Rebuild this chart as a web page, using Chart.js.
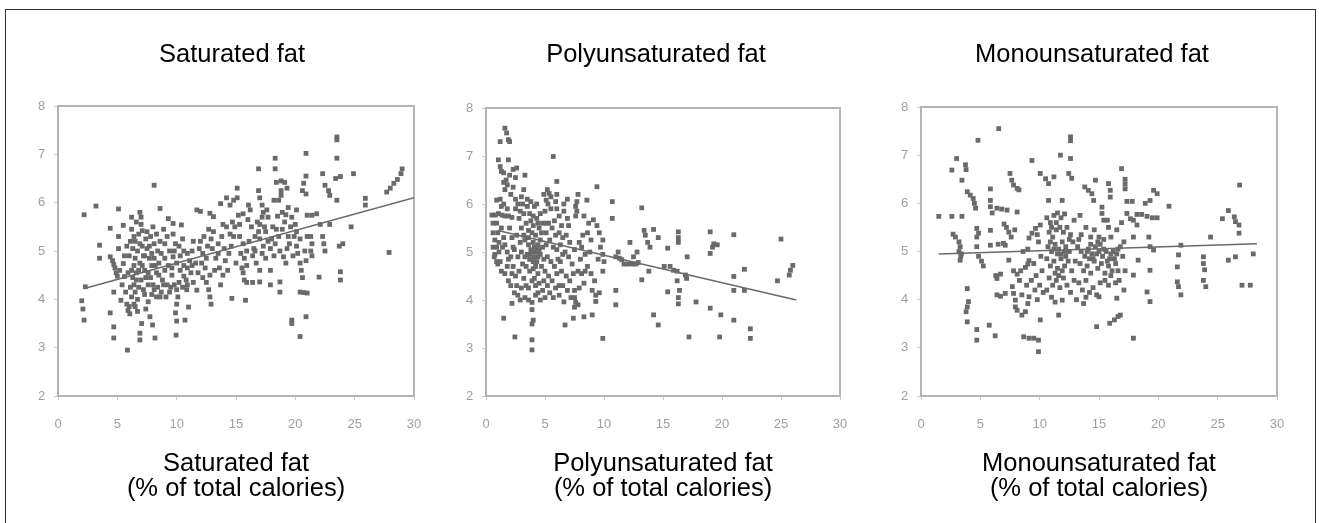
<!DOCTYPE html>
<html>
<head>
<meta charset="utf-8">
<script src="https://cdn.jsdelivr.net/npm/chart.js@4.4.1/dist/chart.umd.min.js"></script>
<style>
  body { margin: 0; background: #fff; width: 1319px; height: 523px; overflow: hidden; position: relative; }
  .frame { position: absolute; left: 5px; top: 9px; width: 1311px; height: 530px; border: 1.5px solid #333; box-sizing: border-box; }
  canvas { position: absolute; top: 10px; }
</style>
</head>
<body>
<div class="frame"></div>
<canvas id="sat" width="430" height="505" style="left:10px"></canvas>
<canvas id="poly" width="430" height="505" style="left:440px"></canvas>
<canvas id="mono" width="430" height="505" style="left:875px"></canvas>
<script>
// panel titles
const titles = ["Saturated fat", "Polyunsaturated fat", "Monounsaturated fat"]
const xTitle = "(% of total calories)"

// [% of calories, y value]
const satFat = [
  [2.0,3.97],[2.1,3.8],[2.2,3.57],[2.2,5.75],[2.3,4.26],[3.2,5.93],[3.5,5.12],[3.5,4.85],[4.4,5.47],[4.4,4.88],
  [4.6,4.8],[4.7,4.72],[4.8,4.65],[4.9,4.55],[5.0,4.48],[4.7,4.15],[4.4,3.72],[4.7,3.43],[4.7,3.2],[5.1,5.87],
  [5.1,5.3],[5.1,5.05],[5.5,5.53],[5.5,4.74],[5.6,4.47],[5.3,3.98],[5.8,3.9],[5.9,3.77],[6.05,3.7],[5.85,2.95],
  [6.2,5.7],[6.9,5.8],[7.0,5.7],[7.0,5.55],[7.1,5.42],[6.5,5.2],[6.7,5.0],[6.5,4.85],[6.4,4.7],[6.3,4.45],
  [6.4,4.3],[6.5,4.15],[6.7,4.0],[6.4,3.9],[6.7,3.75],[7.05,3.5],[6.9,3.3],[6.9,3.16],[7.75,3.64],[7.97,3.47],
  [8.17,3.2],[8.1,6.36],[7.5,5.4],[7.8,5.3],[8.1,5.15],[8.4,5.0],[8.1,4.85],[7.9,4.7],[7.6,4.55],[7.8,4.45],
  [8.0,4.3],[8.1,4.2],[8.3,4.05],[7.6,4.3],[7.3,4.6],[7.2,4.9],[7.0,4.4],[7.3,4.1],[7.6,3.95],[8.6,5.88],
  [9.3,5.67],[9.7,5.57],[10.4,5.54],[8.9,5.45],[9.2,5.3],[9.7,5.35],[9.4,5.0],[9.7,4.88],[10.0,4.75],[10.3,4.6],
  [10.6,4.48],[10.9,4.65],[11.1,4.8],[10.9,4.95],[10.6,5.0],[10.0,4.2],[10.1,4.05],[10.0,3.9],[9.9,3.72],[10.0,3.55],
  [9.95,3.26],[10.7,3.57],[11.0,3.84],[10.85,4.2],[9.0,4.6],[8.8,4.4],[9.2,4.3],[9.4,4.15],[8.7,4.95],[9.0,5.15],
  [11.7,5.85],[12.0,5.82],[11.7,4.19],[11.4,5.2],[11.9,5.05],[12.2,4.95],[12.5,4.85],[12.1,4.75],[12.4,4.65],[12.5,4.35],
  [12.7,4.2],[12.8,4.05],[12.9,3.9],[12.8,5.78],[13.1,5.71],[13.1,5.4],[12.9,5.25],[12.6,5.1],[12.3,5.3],[13.6,4.65],
  [13.9,4.5],[13.7,4.3],[13.7,5.98],[14.2,6.1],[14.5,5.95],[14.8,6.05],[15.1,6.3],[15.1,6.1],[14.2,5.5],[14.5,5.35],
  [14.8,5.3],[14.0,5.05],[14.4,4.95],[14.65,4.02],[15.8,3.98],[15.2,5.74],[15.6,5.77],[16.05,5.95],[16.2,5.85],[15.3,5.3],
  [15.6,5.15],[15.9,5.0],[15.7,4.85],[15.9,4.7],[15.6,4.55],[15.7,4.4],[15.9,4.35],[16.4,4.35],[16.4,4.9],[16.7,4.75],
  [16.9,6.7],[16.9,6.25],[17.0,6.1],[17.2,5.95],[17.3,5.8],[17.2,5.7],[17.0,5.55],[16.9,5.4],[17.0,5.25],[17.3,5.1],
  [17.2,4.95],[17.6,5.85],[17.7,5.7],[17.0,4.6],[17.0,4.36],[17.9,4.6],[17.9,4.3],[18.3,6.92],[18.3,6.7],[18.4,6.42],
  [18.8,6.45],[19.1,6.42],[19.3,6.3],[18.8,6.25],[18.8,6.15],[18.2,6.05],[18.6,6.05],[18.5,5.72],[18.9,5.8],[19.2,5.75],
  [19.1,5.6],[18.9,5.45],[18.6,5.3],[18.3,5.15],[18.7,5.0],[19.0,4.88],[19.2,4.75],[18.7,4.36],[18.7,4.15],[19.7,3.57],
  [19.7,3.5],[20.4,3.23],[20.1,5.4],[20.4,5.25],[20.1,5.1],[20.2,4.95],[20.4,4.75],[20.5,4.6],[20.6,4.45],[20.4,4.15],
  [20.7,4.14],[21.0,4.13],[20.9,3.64],[20.9,7.02],[20.9,6.55],[20.7,6.4],[20.6,6.25],[20.9,6.18],[20.1,5.85],[21.0,5.74],
  [21.4,5.74],[21.8,5.77],[21.3,5.3],[21.4,5.15],[21.3,5.0],[21.4,4.9],[22.0,4.46],[22.3,6.6],[22.5,6.36],[22.8,6.25],
  [22.9,6.15],[22.1,5.55],[22.3,5.3],[22.4,5.15],[22.5,5.0],[22.9,5.55],[23.5,7.36],[23.5,7.3],[23.5,6.92],[23.4,6.5],
  [23.8,6.54],[23.5,6.05],[23.7,5.1],[24.0,5.15],[23.8,4.57],[23.8,4.4],[24.9,6.6],[24.7,5.5],[25.9,6.09],[25.9,5.95],
  [27.9,4.97],[27.7,6.22],[28.0,6.3],[28.3,6.4],[28.6,6.48],[28.9,6.6],[29.0,6.7],
  [6.2,5.45],[6.4,5.3],[6.6,5.6],[6.8,5.35],[6.3,5.05],[6.9,5.15],[6.2,4.6],[6.6,4.55],[6.9,4.75],[6.1,4.25],
  [6.8,4.25],[6.2,4.05],[6.0,3.85],[6.5,3.85],[7.2,4.2],[7.4,4.45],[7.1,5.1],[7.5,5.05],[7.7,4.85],[8.3,4.55],
  [8.5,4.75],[8.3,5.35],[8.0,5.5],[8.6,5.2],[7.4,3.8],[7.9,4.1],[8.4,4.25],[8.7,4.15],[9.0,4.85],[9.3,4.7],
  [9.6,4.5],[9.8,4.3],[9.5,4.25],[10.2,4.35],[10.5,4.25],[10.8,4.4],[10.2,5.1],[10.5,5.25],[9.9,5.15],[11.2,4.55],
  [11.4,4.35],[11.3,5.0],[11.6,4.75],[11.8,4.55],[12.0,5.2],[12.7,5.45],[13.0,5.05],[13.3,4.85],[13.5,5.15],[13.2,4.6],
  [13.5,4.95],[13.8,5.3],[14.1,4.8],[14.3,4.6],[14.6,5.1],[14.9,5.5],[15.0,4.75],[15.4,4.95],[15.5,4.65],[16.1,5.2],
  [16.3,5.5],[16.6,5.3],[16.5,5.05],[16.8,5.6],[17.5,5.4],[17.7,5.2],[17.5,4.85],[17.9,5.05],[18.1,5.5],[18.4,5.45],
  [19.4,5.3],[19.6,5.5],[19.5,5.15],[19.8,4.9],[19.4,5.9],[19.7,5.7],[20.0,5.55],[20.8,5.0],[20.9,4.8],[21.0,5.3],
  [5.2,4.6],[5.4,4.3],[5.7,4.15],[5.9,4.55],[6.0,4.9],[6.1,5.2],[5.8,5.1],[5.6,4.9],[6.6,4.4],[6.8,4.6],
  [7.1,4.7],[7.3,4.9],[7.4,5.25],[7.7,5.1],[7.9,4.95],[8.2,4.7],[8.5,4.5],[8.9,4.3],[8.6,4.05],[9.1,4.05],
  [9.6,4.65],[9.8,5.0],[10.3,4.9],[10.6,4.7],[10.9,4.3],[11.3,4.7],[12.2,4.45],[12.8,4.5],[13.9,5.55],[14.7,5.6],
  [15.3,5.55],[16.0,5.65],[16.6,5.0],[17.4,5.5],[18.0,5.25],[18.2,4.9],[19.3,5.05],[19.9,5.3]
]
const polyFat = [
  [1.6,7.58],[1.75,7.48],[1.9,7.34],[2.0,7.3],[1.2,7.3],[1.05,6.92],[1.2,6.78],[1.3,6.68],[1.5,6.65],[1.9,6.92],
  [1.5,6.45],[1.7,6.5],[2.0,6.6],[2.3,6.72],[2.5,6.55],[2.6,6.75],[2.3,6.35],[2.1,6.2],[1.8,6.4],[1.6,6.3],
  [3.3,6.6],[3.2,6.3],[3.0,6.15],[3.1,6.0],[0.9,6.08],[0.5,5.77],[0.8,5.77],[1.05,5.8],[1.35,5.77],[1.6,5.75],
  [1.9,5.75],[2.2,5.72],[0.9,5.6],[1.0,5.4],[0.75,5.25],[0.9,5.1],[0.75,4.95],[0.9,4.8],[1.3,5.5],[1.5,5.3],
  [1.6,5.15],[1.8,5.0],[1.9,4.85],[1.8,4.7],[1.6,4.55],[1.9,4.4],[2.1,4.3],[2.4,4.15],[1.5,3.62],[2.45,3.23],
  [2.2,3.93],[3.9,3.8],[4.0,3.58],[3.9,3.5],[3.9,3.17],[3.9,2.96],
  [2.5,5.9],[2.8,5.7],[3.0,5.5],[2.6,5.35],[2.9,5.2],[2.4,5.05],[2.7,4.9],[3.1,4.75],[2.8,4.6],[3.2,4.45],
  [3.0,4.25],[3.3,4.05],[3.6,4.0],[3.9,3.95],[4.2,4.1],[3.5,5.95],[3.7,5.8],[4.0,5.75],[4.3,5.7],[3.4,5.6],
  [3.6,5.45],[3.9,5.4],[4.2,5.35],[4.5,5.5],[3.3,5.25],[3.6,5.15],[3.8,5.05],[4.0,5.2],[4.2,5.0],[4.4,5.15],
  [4.6,5.25],[3.5,4.95],[3.8,4.85],[4.1,4.9],[4.3,4.8],[4.6,4.95],[4.8,5.1],[3.4,4.7],[3.7,4.6],[4.0,4.65],
  [4.4,4.55],[4.7,4.7],[3.9,4.4],[4.2,4.3],[4.5,4.35],[4.8,4.2],[5.0,4.05],[4.6,4.0],[3.5,6.1],[3.8,6.05],
  [4.1,5.95],[5.7,6.99],[5.2,6.3],[5.35,6.22],[5.5,6.15],[5.1,6.08],[5.25,6.0],[6.0,6.47],[6.0,6.2],[5.9,6.05],
  [6.0,5.9],[6.2,5.75],[5.0,5.85],[5.3,5.6],[5.6,5.5],[5.9,5.35],[6.2,5.4],[5.1,5.4],[5.4,5.25],[5.7,5.1],
  [6.0,5.05],[6.3,5.15],[5.2,4.9],[5.5,4.8],[5.8,4.7],[6.1,4.85],[6.4,4.6],[5.3,4.5],[5.6,4.4],[5.9,4.25],
  [6.2,4.3],[5.4,4.15],[5.7,4.05],[6.6,3.96],[6.7,3.48],[7.4,3.62],[8.3,3.65],[9.0,3.69],[7.5,4.2],[7.5,4.05],
  [7.6,3.95],[7.5,3.85],[7.8,3.9],[7.8,6.2],[7.7,6.05],[7.6,5.95],[7.7,5.85],[7.6,5.75],[8.55,6.08],[9.4,6.36],
  [6.6,5.85],[6.9,5.7],[7.0,5.55],[6.8,5.35],[7.1,5.2],[6.7,5.0],[7.0,4.9],[7.3,4.75],[6.8,4.5],[7.1,4.4],
  [7.4,4.55],[7.8,4.6],[8.1,4.55],[8.4,4.6],[7.5,5.05],[7.9,5.2],[8.2,5.35],[8.6,5.4],[8.9,5.25],[8.0,4.85],
  [8.4,4.95],[8.8,5.0],[9.1,5.67],[9.4,5.55],[9.6,5.4],[9.9,5.25],[9.7,5.1],[9.9,4.95],[10.0,4.8],[9.9,4.6],
  [9.0,4.2],[9.3,4.1],[9.6,4.15],[9.3,3.97],[9.9,3.2],[10.7,6.05],[10.7,5.7],[11.0,4.2],[11.0,3.9],
  [11.0,4.9],[11.3,4.87],[11.5,4.84],[11.7,4.75],[12.0,4.75],[12.4,4.75],[12.7,4.75],[12.9,4.78],[11.2,5.0],[12.2,5.2],
  [12.5,4.9],[12.8,5.0],[13.2,5.92],[13.4,5.45],[13.5,5.35],[13.7,5.2],[13.9,5.1],[14.2,5.47],[13.2,4.42],[13.8,4.6],
  [14.2,3.69],[14.6,3.48],[14.6,5.3],[15.4,5.08],[15.1,4.7],[15.6,4.7],[15.9,4.62],[15.4,4.17],[16.3,5.42],[16.3,5.3],
  [16.3,5.2],[16.2,4.6],[16.2,4.4],[16.4,4.2],[16.3,4.05],[16.3,3.92],[17.05,4.9],[16.9,4.52],[17.0,4.45],[17.2,3.23],
  [17.8,3.96],[19.0,5.42],[19.2,5.1],[19.3,5.17],[19.6,5.15],[19.0,4.97],[19.0,3.83],[19.9,3.69],[19.8,3.23],[21.0,5.36],
  [21.0,4.49],[21.0,4.2],[21.0,3.58],[21.9,4.64],[21.9,4.2],[22.4,3.4],[22.4,3.2],[25.0,5.27],[24.7,4.4],[25.7,4.52],
  [25.8,4.62],[26.0,4.72],
  [0.6,5.6],[0.6,5.4],[0.6,5.1],[0.7,4.9],[1.1,5.2],[1.1,5.0],[1.2,4.8],[1.3,4.6],[1.0,4.75],[1.4,5.1],
  [1.3,5.95],[1.2,6.1],[1.5,6.0],[1.8,5.9],[2.0,5.5],[2.2,5.3],[2.3,5.1],[2.1,4.9],[2.3,4.7],[2.5,4.5],
  [2.2,4.55],[2.6,4.3],[2.7,4.1],[2.9,4.0],[2.5,6.1],[2.7,6.0],[2.9,5.85],[3.2,5.8],[3.0,5.0],[3.2,5.35],
  [3.3,4.9],[3.4,4.3],[3.6,4.25],[3.7,4.85],[3.9,5.0],[4.1,5.1],[4.3,5.05],[4.0,4.8],[4.2,4.7],[4.4,4.9],
  [4.5,5.05],[4.7,5.4],[4.8,5.6],[4.4,5.6],[4.0,5.55],[3.8,5.65],[3.6,5.3],[3.7,4.95],[4.9,4.85],[5.0,4.6],
  [5.1,5.15],[4.9,4.4],[5.2,4.3],[4.4,4.15],[4.1,4.45],[4.3,6.0],[4.6,5.8],[4.9,6.2],[5.1,5.6],[5.5,5.9],
  [5.8,5.65],[6.4,5.55],[6.5,5.3],[6.5,4.95],[6.3,4.8],[6.0,4.55],[6.2,4.1],[6.5,4.3],[6.9,4.2],[7.2,4.05],
  [7.9,4.25],[8.3,4.35],[8.6,4.7],[8.9,4.55],[9.2,4.4],[9.5,4.85],[8.7,5.6],[8.3,5.75],[8.1,5.1],[6.9,6.1],
  [6.6,6.0]
]
const monoFat = [
  [1.5,5.73],[2.6,5.73],[3.45,5.73],[2.6,6.69],[3.0,6.93],[3.45,6.48],[3.75,6.8],[3.8,6.7],[2.7,5.36],[2.9,5.3],
  [3.2,5.2],[3.3,5.1],[3.2,5.0],[3.35,4.9],[3.3,4.82],[3.4,4.95],[3.9,6.24],[4.15,6.17],[4.4,6.1],[4.5,6.0],
  [4.6,5.9],[4.8,7.31],[4.7,5.48],[4.85,5.38],[4.7,5.3],[4.7,5.1],[4.85,4.9],[5.1,4.8],[5.25,4.7],[3.9,4.23],
  [4.0,3.96],[3.9,3.85],[3.8,3.75],[3.9,3.54],[4.7,3.38],[4.7,3.16],
  [5.85,6.3],[5.85,6.06],[5.85,5.93],[6.0,5.8],[5.85,5.44],[5.85,5.13],[6.55,7.55],[6.4,5.9],[6.8,5.88],[7.25,5.86],
  [6.5,5.15],[6.95,5.17],[7.1,5.13],[6.3,4.5],[6.4,4.44],[6.7,4.53],[6.4,4.1],[6.7,4.07],[7.1,4.13],[5.75,3.47],
  [6.25,3.25],[7.5,6.62],[7.65,6.48],[7.8,6.38],[8.1,6.31],[8.25,6.28],[8.1,5.82],[7.2,5.5],[7.4,5.4],[7.0,5.57],
  [7.4,4.82],[7.8,4.6],[8.1,4.53],[8.4,4.6],[8.8,4.67],[9.0,4.74],[9.1,4.81],[7.7,4.27],[7.8,4.13],[7.95,3.99],
  [7.95,3.85],[8.1,3.78],[8.5,3.68],[8.8,3.75],[9.0,3.92],[9.1,4.06],[8.65,3.23],[9.1,3.2],[9.5,3.2],[9.9,3.16],
  [9.9,2.92],[9.35,6.89],[10.05,6.62],[10.5,6.51],[10.75,6.41],[11.2,6.55],[10.75,6.06],[11.9,6.06],[11.75,7.0],[12.6,7.38],
  [12.6,7.3],[12.6,6.93],[12.45,6.62],[12.7,6.52],
  [9.1,5.28],[9.35,5.38],[9.65,5.48],[9.8,5.35],[9.9,5.2],[10.05,5.55],[10.05,3.58],[11.6,3.68],[11.9,3.99],[13.4,5.75],
  [13.7,3.92],[13.8,6.34],[14.1,6.27],[14.4,6.2],[14.55,6.06],[14.7,6.48],[14.8,3.44],[15.0,4.06],[15.25,5.92],[15.25,5.79],
  [15.4,5.65],[15.7,5.65],[15.8,5.5],[15.8,6.41],[15.95,6.27],[15.95,6.13],[15.9,3.51],[16.3,3.58],[16.6,3.65],[16.8,3.68],
  [16.5,4.03],[16.9,6.72],[17.2,6.5],[17.2,6.4],[17.2,6.3],[17.35,6.04],[17.8,6.04],[17.35,5.79],[17.65,5.68],[17.9,5.65],
  [18.2,5.55],[17.9,5.3],[17.9,4.51],[18.3,4.82],[17.9,3.2],[18.2,5.77],[18.6,5.77],[19.05,5.73],[19.5,5.7],[19.9,5.7],
  [18.9,6.0],[19.3,6.06],[19.6,6.27],[19.9,6.2],[19.2,5.3],[19.3,5.1],[19.6,5.03],[19.3,4.61],[19.05,4.16],[19.3,3.96],
  [20.9,5.94],[21.6,4.68],[21.7,4.93],[21.9,5.13],[21.6,4.37],[21.7,4.27],[21.9,4.1],[23.8,4.89],[23.8,4.75],[23.9,4.62],
  [23.8,4.4],[24.0,4.27],[24.4,5.3],[25.4,5.68],[25.9,5.85],[26.4,5.72],[26.5,5.62],[26.8,5.55],[26.8,5.38],[25.9,4.82],
  [26.5,4.89],[26.85,6.38],[27.05,4.3],[27.75,4.3],[28.0,4.95],
  [10.6,5.7],[10.9,5.6],[11.2,5.75],[11.5,5.8],[11.8,5.7],[12.1,5.78],[10.8,5.4],[11.1,5.3],[11.4,5.45],[11.7,5.5],
  [12.0,5.4],[12.3,5.5],[12.6,5.35],[10.7,5.1],[11.0,5.0],[11.3,5.15],[11.6,5.05],[11.9,5.2],[12.2,5.1],[12.5,5.0],
  [12.8,5.2],[10.6,4.85],[10.9,4.7],[11.2,4.8],[11.5,4.65],[11.8,4.85],[12.1,4.7],[12.4,4.8],[12.7,4.6],[10.8,4.45],
  [11.1,4.3],[11.4,4.4],[11.7,4.25],[12.0,4.45],[12.3,4.3],[12.6,4.15],[12.9,4.4],[10.1,4.9],[10.2,4.6],[10.0,4.3],
  [10.3,4.15],[10.6,4.2],[11.0,4.05],[11.3,3.95],[9.7,4.5],[9.5,4.75],[13.2,5.1],[13.5,5.0],[13.8,4.9],[14.1,5.05],
  [14.4,4.95],[14.7,5.1],[15.0,5.0],[15.3,4.9],[15.6,5.0],[15.9,4.85],[16.2,5.0],[16.5,4.95],[16.8,5.1],[13.4,4.75],
  [13.7,4.6],[14.0,4.7],[14.3,4.55],[14.6,4.8],[14.9,4.65],[15.2,4.75],[15.5,4.55],[15.8,4.7],[16.1,4.6],[16.4,4.75],
  [16.7,4.4],[13.3,4.35],[13.6,4.2],[13.9,4.4],[14.2,4.15],[14.5,4.25],[15.1,4.35],[15.8,4.3],[16.4,4.35],[13.5,5.35],
  [13.9,5.5],[14.3,5.3],[14.6,5.45],[15.0,5.3],[15.4,5.25],[16.0,5.3],[16.5,5.45],[16.9,5.6],[17.1,5.2],[17.0,4.9],
  [17.2,4.6],[17.1,4.2],[12.9,5.65],[13.1,4.0],
  [10.9,5.2],[11.2,5.05],[11.5,4.95],[11.8,4.95],[12.1,5.0],[11.3,4.55],[11.6,4.5],[11.9,4.6],[12.2,4.9],[12.5,5.25],
  [11.0,5.5],[11.4,5.6],[14.0,5.0],[14.3,5.15],[14.5,4.85],[14.8,4.95],[15.1,5.15],[15.4,5.05],[15.7,4.8],[16.0,4.95],
  [16.3,4.85],[16.6,5.05],[14.2,4.85],[14.9,5.2],[15.5,4.4],[16.0,4.5],[16.6,4.6],[13.0,4.8],[13.3,5.25],[13.9,4.05],
  [14.8,4.1],[9.8,4.0],[9.6,4.2],[9.3,4.4],[8.9,4.3],[8.5,4.1],[8.3,4.4],[9.0,5.05],[8.6,5.0],[7.9,5.45],
  [7.6,5.3]
]

// fitted lines, start and end point
const satTrend = [[2.3,4.23],[30,6.1]]
const polyTrend = [[1.0,5.45],[26.3,4.0]]
const monoTrend = [[1.5,4.95],[28.3,5.16]]

// yw: width given to the y scale box, so the title centres where it does in the picture
const panels = [
  { id: "sat", data: satFat, trend: satTrend, left: 48, right: 26, top: 96, bottom: 386, yw: 8 },
  { id: "poly", data: polyFat, trend: polyTrend, left: 46, right: 30, top: 98, bottom: 386, yw: 14 },
  { id: "mono", data: monoFat, trend: monoTrend, left: 46, right: 28, top: 97, bottom: 386, yw: 14 }
]

const ink = "#6a6a6a"
const textFont = "'Liberation Sans', Arial, sans-serif"

// outline of the plot box
const plotBox = {
  id: "plotBox",
  beforeDatasetsDraw(chart) {
    const { ctx, chartArea: a } = chart
    ctx.save()
    ctx.strokeStyle = "#b4b4b4"
    ctx.lineWidth = 2
    ctx.strokeRect(a.left, a.top, a.right - a.left, a.bottom - a.top)
    ctx.restore()
  }
}

panels.forEach((p, i) => {
  const canvas = document.getElementById(p.id)
  const titleSize = 25.5
  const titleLine = titleSize * 1.2
  new Chart(canvas, {
    type: "scatter",
    data: {
      datasets: [{
        data: p.data.map(([x, y]) => ({ x, y })),
        backgroundColor: ink,
        borderWidth: 0,
        pointStyle: "rect",
        pointRadius: 3.4
      }, {
        type: "line",
        data: p.trend.map(([x, y]) => ({ x, y })),
        borderColor: ink,
        borderWidth: 1.5,
        pointRadius: 0,
        fill: false
      }]
    },
    plugins: [plotBox],
    options: {
      responsive: false,
      animation: false,
      events: [],
      layout: { padding: { left: p.left - p.yw, right: p.right, top: 0, bottom: 0 } },
      plugins: {
        legend: { display: false },
        tooltip: { enabled: false },
        title: {
          display: true,
          text: titles[i],
          color: "#000",
          font: { family: textFont, size: titleSize, weight: "normal" },
          padding: { top: 30, bottom: p.top - titleLine - 30 }
        }
      },
      scales: {
        x: {
          type: "linear",
          min: 0, max: 30,
          ticks: { stepSize: 5, color: "#a0a0a0", padding: 17, font: { family: textFont, size: 13 } },
          grid: { drawOnChartArea: false, tickLength: 4, color: "#c8c8c8" },
          border: { display: false },
          title: {
            display: true,
            text: [titles[i], xTitle],
            color: "#000",
            font: { family: textFont, size: titleSize, lineHeight: 0.98 },
            padding: { top: 0, bottom: 14 }
          },
          afterFit(s) { s.height = 505 - p.bottom }
        },
        y: {
          min: 2, max: 8,
          // mirrored with a negative padding: labels sit left of the narrow scale box without being clipped
          ticks: { stepSize: 1, color: "#a0a0a0", mirror: true, padding: -20, font: { family: textFont, size: 13 } },
          grid: { drawOnChartArea: false, tickLength: 4, color: "#c8c8c8" },
          border: { display: false },
          afterFit(s) { s.width = p.yw }
        }
      }
    }
  })
})
</script>
</body>
</html>
